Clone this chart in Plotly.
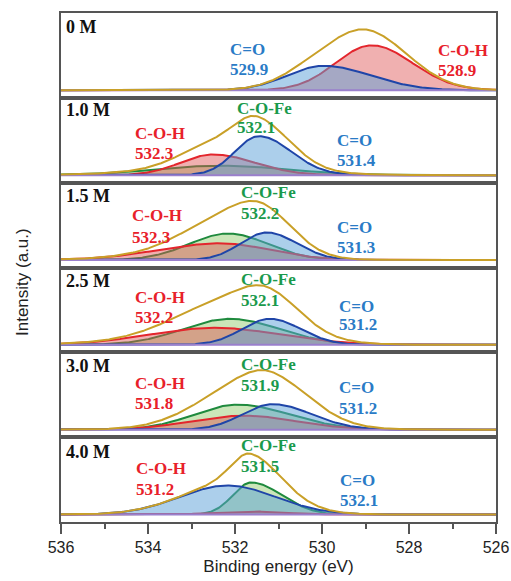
import numpy as np
import plotly.graph_objects as go
from plotly.subplots import make_subplots

# ---------------- data ----------------
panel_names = ["0 M", "1.0 M", "1.5 M", "2.5 M", "3.0 M", "4.0 M"]

# C-O-H component (red): centre (eV), height (a.u.), width on high-BE / low-BE side (eV)
coh_center = [528.86, 532.5, 532.35, 532.45, 531.8, 531.65]
coh_height = [45, 20.7, 16.7, 17, 14, 3]
coh_sig_hi = [0.83, 0.75, 1.4, 1.5, 1.2, 0.8]
coh_sig_lo = [0.94, 0.95, 1.15, 1.5, 1.2, 0.8]

# C=O component (blue)
co_center = [529.97, 531.45, 531.27, 531.2, 531.14, 532.17]
co_height = [24.5, 39, 27.5, 26, 25.5, 29]
co_sig_hi = [0.83, 0.55, 0.6, 0.64, 0.69, 1.1]
co_sig_lo = [1.09, 0.74, 0.69, 0.71, 0.9, 1.1]

# C-O-Fe component (green); absent at 0 M
cofe_center = [None, 532.3, 532.15, 532.12, 531.94, 531.63]
cofe_height = [None, 9.5, 26.5, 26, 25, 32]
cofe_sig_hi = [None, 1.5, 0.9, 1.08, 1.0, 0.42]
cofe_sig_lo = [None, 1.5, 0.9, 1.15, 1.2, 0.7]

# peak labels
coh_label = ["528.9", "532.3", "532.3", "532.2", "531.8", "531.2"]
co_label = ["529.9", "531.4", "531.3", "531.2", "531.2", "532.1"]
cofe_label = [None, "532.1", "532.2", "532.1", "531.9", "531.5"]

x_ticks = [536, 534, 532, 530, 528, 526]

# ---------------- styles / layout ----------------
W, H = 511, 581
L, R, T, B = 61, 15, 13, 59
plot_w = W - L - R
plot_h = H - T - B

RED_LINE, RED_FILL, RED_TXT = "#e3262d", "rgba(222,80,80,0.45)", "#e8202a"
BLUE_LINE, BLUE_FILL, BLUE_TXT = "#1f45a8", "rgba(90,160,215,0.5)", "#2a7bc6"
GREEN_LINE, GREEN_FILL, GREEN_TXT = "#1f8a3e", "rgba(140,200,100,0.45)", "#1a9a4c"
GOLD = "#c9a028"
PURPLE = "#9a7fcc"
FRAME = "#555555"

# label positions in page pixels: (left x, y of line 1, y of line 2)
pos_coh = [(435.7, 50.8, 70.5), (132.7, 133.8, 154), (130, 215.8, 237.7),
           (133, 297.5, 317.5), (133, 383, 403.3), (134, 469, 489)]
pos_co = [(228.3, 49, 70), (335, 140.8, 160.8), (335, 227.5, 247.5),
          (337, 306, 324), (337, 387.5, 408), (338, 480, 500)]
pos_cofe = [None, (235, 108.5, 127.5), (239, 192.5, 214), (239, 279, 300.8),
            (239, 364, 385), (239, 445.7, 466)]
pos_name = [(64, 26.7), (64, 110.3), (64, 195.8), (64, 280.8), (64, 366), (64, 451.7)]

n = len(panel_names)
panel_px = plot_h / n
base_off = 7.5  # baseline height above panel bottom (px)

fig = make_subplots(rows=n, cols=1, shared_xaxes=True, vertical_spacing=0)

x = np.linspace(536.2, 525.8, 521)


def peak(c, h, s_hi, s_lo):
    s = np.where(x >= c, s_hi, s_lo)
    return h * np.exp(-((x - c) ** 2) / (2 * s ** 2))


for i in range(n):
    row = i + 1
    comps = []
    if cofe_center[i] is not None:
        comps.append((peak(cofe_center[i], cofe_height[i], cofe_sig_hi[i], cofe_sig_lo[i]),
                      GREEN_LINE, GREEN_FILL))
    comps.append((peak(coh_center[i], coh_height[i], coh_sig_hi[i], coh_sig_lo[i]),
                  RED_LINE, RED_FILL))
    comps.append((peak(co_center[i], co_height[i], co_sig_hi[i], co_sig_lo[i]),
                  BLUE_LINE, BLUE_FILL))
    for y, lc, fc in comps:
        fig.add_trace(go.Scatter(x=x, y=y, mode="lines", line=dict(color=lc, width=2),
                                 fill="tozeroy", fillcolor=fc, hoverinfo="skip",
                                 showlegend=False), row=row, col=1)
    env = sum(c[0] for c in comps)
    fig.add_trace(go.Scatter(x=x, y=np.zeros_like(x), mode="lines",
                             line=dict(color=PURPLE, width=2), showlegend=False,
                             hoverinfo="skip"), row=row, col=1)
    fig.add_trace(go.Scatter(x=x, y=env, mode="lines", line=dict(color=GOLD, width=2),
                             showlegend=False, hoverinfo="skip"), row=row, col=1)
    fig.update_yaxes(range=[-base_off, panel_px - base_off], showticklabels=False,
                     ticks="", showgrid=False, zeroline=False, showline=True, mirror=True,
                     linecolor=FRAME, linewidth=2, automargin=False, row=row, col=1)
    fig.update_xaxes(range=[536, 526], showgrid=False, zeroline=False, showline=True,
                     mirror=True, linecolor=FRAME, linewidth=2, automargin=False,
                     row=row, col=1, ticks="" if row < n else "outside")

fig.update_xaxes(row=n, col=1, tickvals=x_ticks, ticklen=10, tickwidth=2, tickcolor=FRAME,
                 ticklabeloverflow="allow",
                 minor=dict(dtick=1, ticks="outside", ticklen=5, tickwidth=2, tickcolor=FRAME),
                 tickfont=dict(family="Liberation Sans", size=16, color="#222"),
                 title=dict(text="Binding energy (eV)",
                            font=dict(family="Liberation Sans", size=17, color="#222"),
                            standoff=5))


def px_to_paper(px, py):
    return (px - L) / plot_w, (H - B - py) / plot_h


annotations = []


def add_text(px, py, text, color, size=17):
    xp, yp = px_to_paper(px, py)
    annotations.append(dict(x=xp, y=yp, xref="paper", yref="paper", text="<b>" + text + "</b>",
                            showarrow=False, xanchor="left", yanchor="middle",
                            font=dict(family="Liberation Serif", size=size, color=color)))


for i in range(n):
    add_text(pos_name[i][0], pos_name[i][1], panel_names[i], "#111", 18)
    px, y1, y2 = pos_coh[i]
    add_text(px, y1, "C-O-H", RED_TXT)
    add_text(px, y2, coh_label[i], RED_TXT)
    px, y1, y2 = pos_co[i]
    add_text(px, y1, "C=O", BLUE_TXT)
    add_text(px, y2, co_label[i], BLUE_TXT)
    if pos_cofe[i] is not None:
        px, y1, y2 = pos_cofe[i]
        add_text(px, y1, "C-O-Fe", GREEN_TXT)
        add_text(px, y2, cofe_label[i], GREEN_TXT)

xp, yp = px_to_paper(22, 282)
annotations.append(dict(x=xp, y=yp, xref="paper", yref="paper", text="Intensity (a.u.)",
                        textangle=-90, showarrow=False, xanchor="center", yanchor="middle",
                        font=dict(family="Liberation Sans", size=17, color="#222")))

fig.update_layout(width=W, height=H, margin=dict(l=L, r=R, t=T, b=B),
                  paper_bgcolor="white", plot_bgcolor="white", annotations=annotations,
                  showlegend=False)

fig.write_html("out.html", config={"displayModeBar": False},
               post_script="document.body.style.margin='0';document.body.style.overflow='hidden';")
